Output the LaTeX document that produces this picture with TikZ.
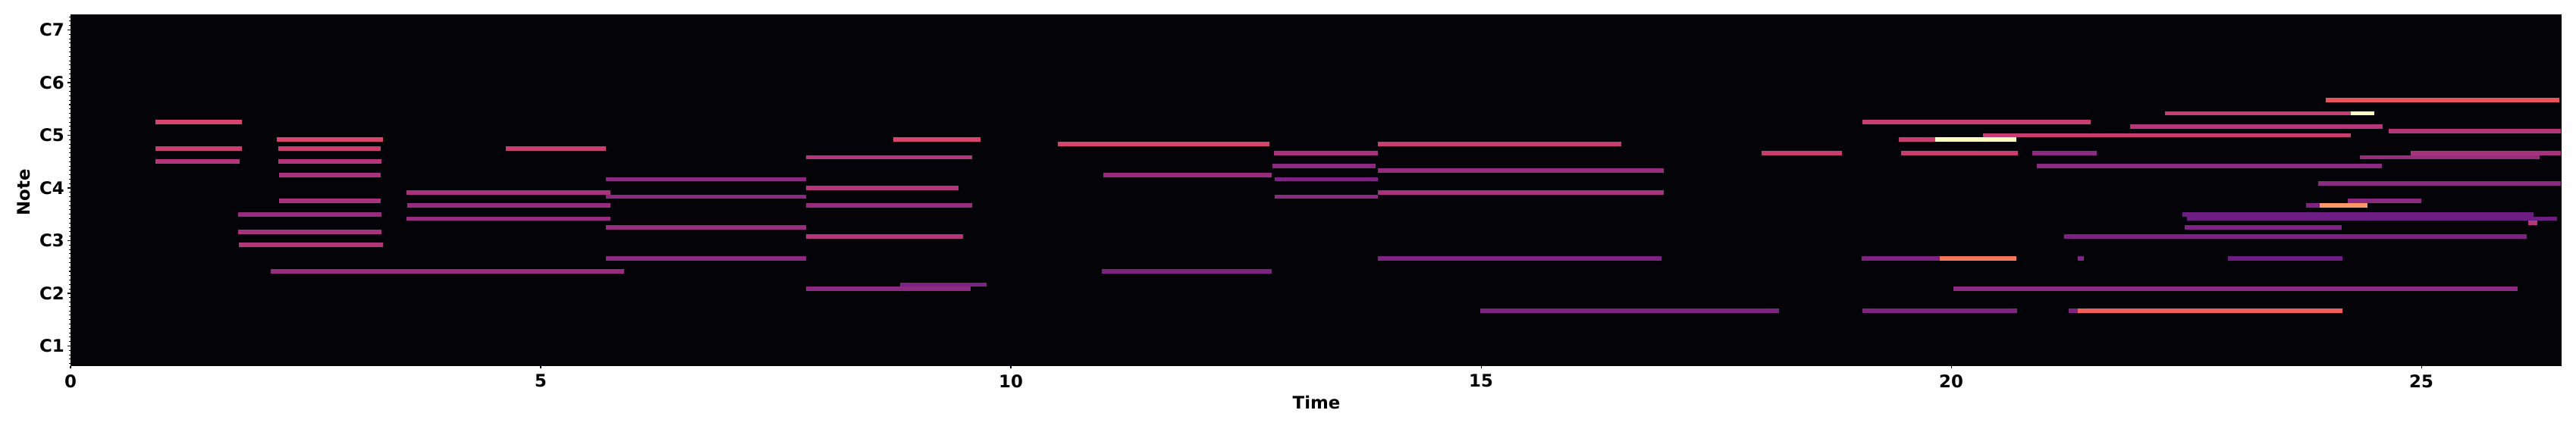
\documentclass[tikz,border=0pt]{standalone}
\usepackage{fontspec}
\setmainfont{DejaVu Sans}
\definecolor{mZero}{HTML}{030308}
\definecolor{mA}{HTML}{D8456C}
\definecolor{mB}{HTML}{C83E73}
\definecolor{mC}{HTML}{B5367A}
\definecolor{mD}{HTML}{A8327D}
\definecolor{mE}{HTML}{982D80}
\definecolor{mF}{HTML}{8C2981}
\definecolor{mG}{HTML}{7D2482}
\definecolor{mH}{HTML}{6C1D81}
\definecolor{mY}{HTML}{FCFDBF}
\definecolor{mO}{HTML}{FD9567}
\definecolor{mP}{HTML}{F8765C}
\definecolor{mQ}{HTML}{F1605D}
\definecolor{mR}{HTML}{E8535F}
\tikzset{
  ticklabel/.style={font=\fontsize{6.5}{8}\selectfont\bfseries, inner sep=0pt},
  tickmark/.style={line width=0.3pt, black}
}
\begin{document}
\begin{tikzpicture}[x=1.24cm, y=0.0579cm]
        \path[use as bounding box] (-0.75, 5.244) rectangle (26.645, 102.83);
        % plot area
        \fill[mZero] (0,19.5) rectangle (26.49,99.5);
        % notes: start/end/pitch/colour
        \foreach \ta/\tb/\p/\c in {
          0.90/1.82/75/mA, 0.90/1.82/69/mB, 0.90/1.80/66/mC,
          2.19/3.32/71/mA, 2.21/3.30/69/mB, 2.21/3.31/66/mC, 2.22/3.30/63/mD,
          2.22/3.30/57/mD, 1.78/3.31/54/mE, 1.78/3.31/50/mD, 1.79/3.32/47/mC,
          2.13/5.89/41/mE, 3.57/5.74/59/mD, 3.58/5.74/56/mE, 3.57/5.74/53/mE,
          4.63/5.69/69/mB, 5.69/7.82/62/mF, 5.69/7.82/58/mF, 5.69/7.82/51/mE,
          5.69/7.82/44/mF, 7.82/9.59/67/mC, 7.82/9.44/60/mC, 7.82/9.59/56/mE,
          7.82/9.49/49/mC, 7.82/9.57/37/mF, 8.82/9.74/38/mG, 8.75/9.68/71/mA,
          10.50/12.75/70/mA, 10.98/12.77/63/mE, 10.97/12.77/41/mG,
          12.80/13.90/68/mD, 12.78/13.88/65/mF, 12.81/13.90/62/mG, 12.81/13.90/58/mF,
          13.90/16.49/70/mB, 13.90/16.94/64/mE, 13.90/16.94/59/mD, 13.90/16.92/44/mG,
          14.99/18.17/32/mG, 17.98/18.84/68/mB,
          19.06/21.48/75/mB, 19.44/19.83/71/mB, 19.83/20.69/71/mY, 19.47/20.71/68/mB,
          20.86/21.55/68/mF, 20.91/24.58/65/mF, 20.34/24.25/72/mB, 21.90/24.59/74/mC,
          22.27/24.25/77/mB, 24.25/24.50/77/mY, 23.98/26.47/80/mR, 24.65/26.48/73/mC,
          24.89/26.48/68/mD, 24.35/26.26/67/mE, 23.90/26.48/61/mF, 24.22/25.00/57/mF,
          23.77/23.92/56/mG, 23.92/24.43/56/mO, 22.46/26.19/54/mH, 22.51/26.44/53/mH,
          26.14/26.23/52/mC, 22.48/24.15/51/mG, 21.20/26.12/49/mG,
          19.05/19.88/44/mG, 19.88/20.69/44/mP, 21.35/21.41/44/mG, 22.94/24.16/44/mH,
          20.02/26.02/37/mF, 19.06/20.70/32/mG, 21.25/21.35/32/mG, 21.35/24.16/32/mQ}
          \fill[\c] (\ta,\p-0.5) rectangle (\tb,\p+0.5);
        % y axis
        \foreach \p in {20,...,99}
          \draw[tickmark] (0,\p) -- (-0.016,\p);
        \foreach \o in {1,...,7} {
          \draw[tickmark] (0,12*\o+12) -- (-0.03,12*\o+12);
          \node[ticklabel, anchor=east] (c\o) at (-0.06,12*\o+12) {C\o};
        }
        \node[ticklabel, rotate=90] (note) at (-0.50,59) {Note};
        % x axis
        \foreach \t in {0,5,...,25} {
          \draw[tickmark] (\t,19.5) -- (\t,18.9);
          \node[ticklabel] (t\t) at (\t,16.0) {\t};
        }
        \node[ticklabel] (time) at (13.25,11.1) {Time};
      \end{tikzpicture}
\end{document}
